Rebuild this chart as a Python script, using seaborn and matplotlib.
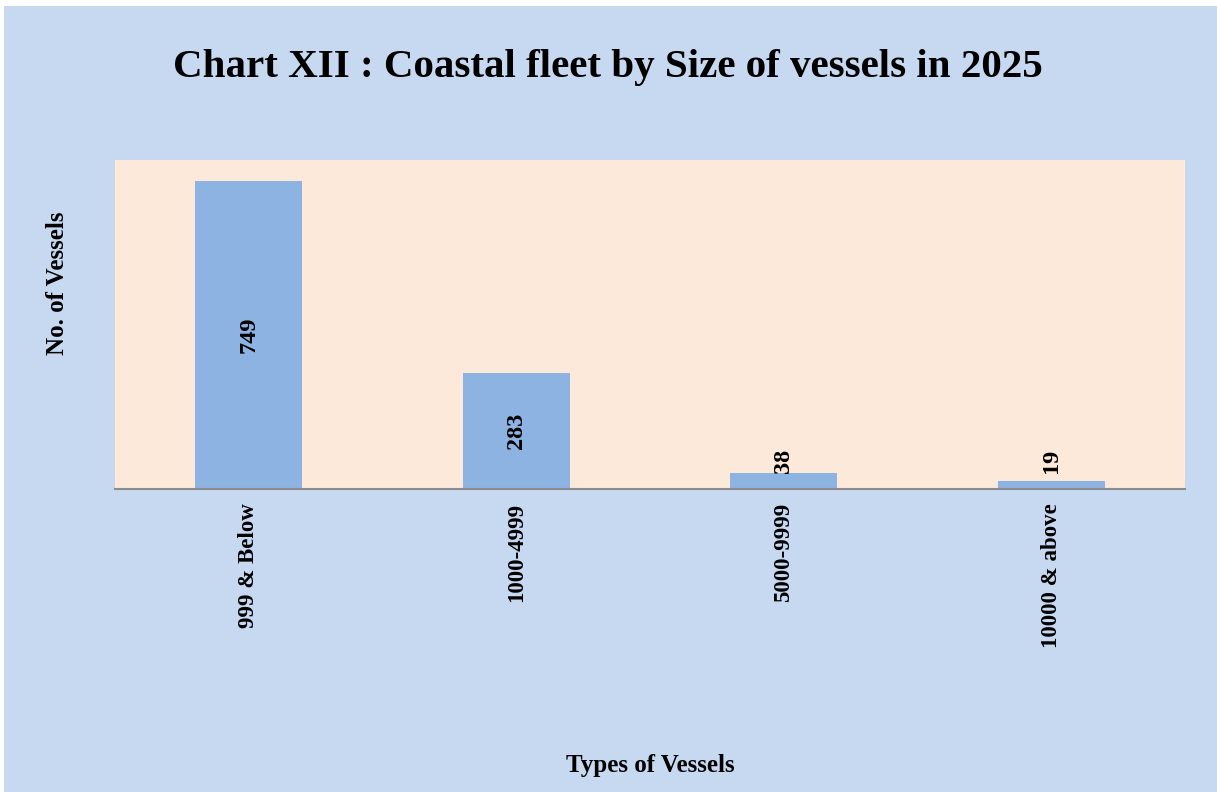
import matplotlib
matplotlib.use("Agg")
import matplotlib.pyplot as plt
from matplotlib.patches import Rectangle
import seaborn as sns
import pandas as pd

categories = ["999 & Below", "1000-4999", "5000-9999", "10000 & above"]
values = [749, 283, 38, 19]

sns.set_theme(style="white")
plt.rcParams['font.family'] = ['Liberation Serif', 'DejaVu Serif']
plt.rcParams['text.color'] = 'black'
plt.rcParams['axes.labelcolor'] = 'black'
plt.rcParams['xtick.color'] = 'black'

df = pd.DataFrame({"cat": categories, "val": values})

fig = plt.figure(figsize=(12.17, 7.92), dpi=100, facecolor="white")
fig.patches.append(Rectangle((4/1217, 0), 1 - 4/1217, 786/792, transform=fig.transFigure,
                             facecolor="#C6D9F0", edgecolor="none", zorder=-10))
ax = fig.add_axes([115/1217, (792-489)/792, 1070/1217, 329/792])
ax.set_facecolor("#FDE9D9")

sns.barplot(data=df, x="cat", y="val", ax=ax, color="#8DB3E2", width=0.4,
            saturation=1, edgecolor="none")
ax.set_xlim(-0.5, 3.5)
ax.set_ylim(0, 800)
ax.set_yticks([])
for s in ["top", "right", "left"]:
    ax.spines[s].set_visible(False)
ax.spines["bottom"].set_color("#8c8c8c")
ax.spines["bottom"].set_linewidth(1.5)
ax.tick_params(axis="x", length=0, pad=10)
for lab in ax.get_xticklabels():
    lab.set_rotation(90)
    lab.set_fontsize(16.5)
    lab.set_fontweight("bold")
    lab.set_va("top")

for i, v in enumerate(values):
    if v > 100:
        ax.text(i, v / 2, str(v), rotation=90, ha="center", va="center",
                fontsize=17.5, fontweight="bold")
    else:
        ax.text(i, max(v, 40), str(v), rotation=90, ha="center", va="bottom",
                fontsize=17.5, fontweight="bold")

ax.set_xlabel("Types of Vessels", fontsize=18, fontweight="bold")
ax.xaxis.set_label_coords(0.5, -0.805)
ax.set_ylabel("No. of Vessels", fontsize=18, fontweight="bold")
ax.yaxis.set_label_coords(-0.043, 0.626)

fig.text(608/1217, 1 - 68/792, "Chart XII : Coastal fleet by Size of vessels in 2025",
         ha="center", va="center", fontsize=29.5, fontweight="bold")

fig.savefig("out.png", dpi=100, facecolor=fig.get_facecolor())
